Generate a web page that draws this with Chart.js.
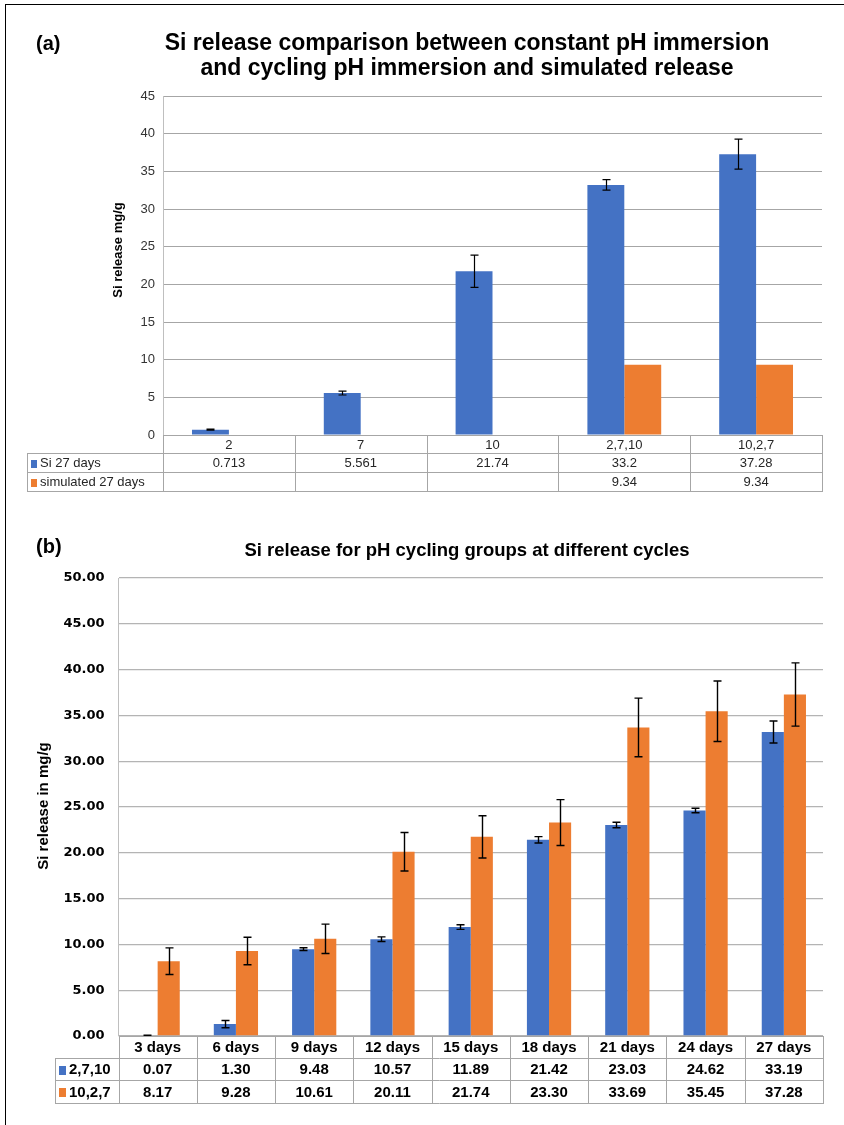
<!DOCTYPE html>
<html>
<head>
<meta charset="utf-8">
<script src="https://cdn.jsdelivr.net/npm/chart.js@4.4.1/dist/chart.umd.min.js"></script>
<style>
  html, body { margin: 0; padding: 0; background: #fff; }
  body { width: 844px; height: 1125px; position: relative; overflow: hidden; }
  #frame { position: absolute; left: 5px; top: 4px; width: 860px; height: 1140px;
           border-left: 1.5px solid #000; border-top: 1.5px solid #000; }
  canvas { position: absolute; left: 0; }
  #chartA { top: 0; }
  #chartB { top: 505px; }
</style>
</head>
<body>
<div id="frame"></div>
<canvas id="chartA" width="844" height="505"></canvas>
<canvas id="chartB" width="844" height="620"></canvas>
<script>
// ---- Panel (a): 27-day Si release, constant pH vs cycling pH vs simulated ----
const phGroups   = ['2', '7', '10', '2,7,10', '10,2,7'];
const si27       = [0.713, 5.561, 21.74, 33.2, 37.28];
const si27Err    = [0.06, 0.25, 2.15, 0.7, 2.0];
const simulated27 = [null, null, null, 9.34, 9.34];

// ---- Panel (b): cumulative Si release of the cycling groups ----
const cycleDays  = ['3 days', '6 days', '9 days', '12 days', '15 days', '18 days', '21 days', '24 days', '27 days'];
const grp2710    = [0.07, 1.30, 9.48, 10.57, 11.89, 21.42, 23.03, 24.62, 33.19];
const grp2710Err = [0.03, 0.40, 0.15, 0.25, 0.25, 0.35, 0.30, 0.25, 1.20];
const grp1027    = [8.17, 9.28, 10.61, 20.11, 21.74, 23.30, 33.69, 35.45, 37.28];
const grp1027Err = [1.45, 1.50, 1.60, 2.10, 2.30, 2.50, 3.20, 3.30, 3.45];

const BLUE = '#4472C4';
const ORANGE = '#ED7D31';
const SANS = "'Liberation Sans', Arial, sans-serif";

// error bars: dataset.errors holds the +/- half-range for every bar
const errorBars = {
  id: 'errorBars',
  afterDatasetsDraw(chart, args, opts) {
    const ctx = chart.ctx, y = chart.scales.y;
    ctx.save();
    ctx.strokeStyle = '#000';
    ctx.lineWidth = opts.width || 1.2;
    const cap = opts.cap || 4;
    chart.data.datasets.forEach((ds, di) => {
      if (!ds.errors) return;
      const meta = chart.getDatasetMeta(di);
      meta.data.forEach((bar, i) => {
        const v = ds.data[i], e = ds.errors[i];
        if (v == null || e == null) return;
        const x = Math.round(bar.x) + 0.5;
        const yt = y.getPixelForValue(v + e), yb = y.getPixelForValue(v - e);
        ctx.beginPath();
        ctx.moveTo(x, yt); ctx.lineTo(x, yb);
        ctx.moveTo(x - cap, yt); ctx.lineTo(x + cap, yt);
        ctx.moveTo(x - cap, yb); ctx.lineTo(x + cap, yb);
        ctx.stroke();
      });
    });
    ctx.restore();
  }
};

// titles, rotated value-axis title and the data table under the plot
const decorations = {
  id: 'decorations',
  afterDraw(chart, args, o) {
    const ctx = chart.ctx, area = chart.chartArea, xs = chart.scales.x;
    ctx.save();
    ctx.fillStyle = '#000';
    ctx.textBaseline = 'middle';

    // panel letter
    ctx.font = 'bold ' + o.letterSize + 'px ' + SANS;
    ctx.textAlign = 'left';
    ctx.fillText(o.letter, o.letterX, o.letterY);

    // chart title lines
    ctx.font = 'bold ' + o.titleSize + 'px ' + SANS;
    ctx.textAlign = 'center';
    o.title.forEach((line, k) => ctx.fillText(line, o.titleX, o.titleY + k * o.titleGap));

    // value axis title
    ctx.save();
    ctx.translate(o.yTitleX, o.yTitleY);
    ctx.rotate(-Math.PI / 2);
    ctx.font = 'bold ' + o.yTitleSize + 'px ' + SANS;
    ctx.fillText(o.yTitle, 0, 0);
    ctx.restore();

    // data table
    const n = chart.data.labels.length;
    const step = (area.right - area.left) / n;
    const r = o.rows;
    const L = Math.round(area.left) + 0.5, R = Math.round(area.right) + 0.5;
    const T = o.tableLeft + 0.5;
    ctx.strokeStyle = o.lineColor;
    ctx.lineWidth = 1;
    ctx.beginPath();
    ctx.moveTo(L, r[0] + 0.5); ctx.lineTo(R, r[0] + 0.5);
    for (let k = 1; k < r.length; k++) { ctx.moveTo(T, r[k] + 0.5); ctx.lineTo(R, r[k] + 0.5); }
    for (let i = 0; i <= n; i++) {
      const x = Math.round(area.left + i * step) + 0.5;
      ctx.moveTo(x, r[0]); ctx.lineTo(x, r[r.length - 1] + 1);
    }
    ctx.moveTo(T, r[1]); ctx.lineTo(T, r[r.length - 1] + 1);
    ctx.stroke();

    ctx.font = o.tableFont;
    ctx.fillStyle = o.tableColor;
    ctx.textAlign = 'center';
    chart.data.labels.forEach((lab, i) => {
      ctx.fillText(lab, xs.getPixelForValue(i), (r[0] + r[1]) / 2 + o.textShift);
    });
    chart.data.datasets.forEach((ds, di) => {
      const cy = (r[di + 1] + r[di + 2]) / 2 + o.textShift;
      ctx.fillStyle = ds.backgroundColor;
      ctx.fillRect(o.keyX, Math.round(cy - o.keyH / 2), o.keyW, o.keyH);
      ctx.fillStyle = o.tableColor;
      ctx.textAlign = 'left';
      ctx.fillText(ds.label, o.keyX + o.keyW + 3, cy);
      ctx.textAlign = 'center';
      ds.data.forEach((v, i) => {
        if (v == null) return;
        ctx.fillText(o.fmt(v), xs.getPixelForValue(i), cy);
      });
    });
    ctx.restore();
  }
};

Chart.register(errorBars, decorations);

function yAxisWidth(w) { return s => { s.width = w; }; }

// ---------- panel (a) ----------
new Chart(document.getElementById('chartA'), {
  type: 'bar',
  data: {
    labels: phGroups,
    datasets: [
      { label: 'Si 27 days', data: si27, errors: si27Err, backgroundColor: BLUE },
      { label: 'simulated 27 days', data: simulated27, backgroundColor: ORANGE }
    ]
  },
  options: {
    responsive: false,
    animation: false,
    events: [],
    categoryPercentage: 0.56,
    barPercentage: 1.0,
    layout: { padding: { left: 123, right: 22, top: 96, bottom: 70 } },
    plugins: {
      legend: { display: false },
      tooltip: { enabled: false },
      errorBars: { width: 1.2, cap: 4 },
      decorations: {
        letter: '(a)', letterSize: 20, letterX: 36, letterY: 44,
        title: ['Si release comparison between constant pH immersion',
                'and cycling pH immersion and simulated release'],
        titleSize: 23, titleX: 467, titleY: 44, titleGap: 25,
        yTitle: 'Si release mg/g', yTitleSize: 13, yTitleX: 118, yTitleY: 250,
        rows: [435, 453, 472, 491], tableLeft: 27,
        lineColor: '#a6a6a6', tableFont: '13px ' + SANS, tableColor: '#262626',
        textShift: 1, keyX: 31, keyW: 6, keyH: 8,
        fmt: v => String(v)
      }
    },
    scales: {
      x: { display: false },
      y: {
        min: 0, max: 45,
        afterFit: yAxisWidth(40),
        ticks: { stepSize: 5, font: { family: SANS, size: 13 }, color: '#333333', padding: 8 },
        grid: { color: '#a6a6a6', lineWidth: 1, drawTicks: false },
        border: { display: true, color: '#bfbfbf', width: 1 }
      }
    }
  }
});

// ---------- panel (b) ----------
new Chart(document.getElementById('chartB'), {
  type: 'bar',
  data: {
    labels: cycleDays,
    datasets: [
      { label: '2,7,10', data: grp2710, errors: grp2710Err, backgroundColor: BLUE },
      { label: '10,2,7', data: grp1027, errors: grp1027Err, backgroundColor: ORANGE }
    ]
  },
  options: {
    responsive: false,
    animation: false,
    events: [],
    categoryPercentage: 0.565,
    barPercentage: 1.0,
    layout: { padding: { left: 48.5, right: 21, top: 73, bottom: 89 } },
    plugins: {
      legend: { display: false },
      tooltip: { enabled: false },
      errorBars: { width: 1.4, cap: 4 },
      decorations: {
        letter: '(b)', letterSize: 20, letterX: 36, letterY: 42,
        title: ['Si release for pH cycling groups at different cycles'],
        titleSize: 18.5, titleX: 467, titleY: 46, titleGap: 0,
        yTitle: 'Si release in mg/g', yTitleSize: 15, yTitleX: 44, yTitleY: 301,
        rows: [531, 553, 575, 598], tableLeft: 55,
        lineColor: '#a6a6a6', tableFont: 'bold 15px ' + SANS, tableColor: '#000',
        textShift: 1, keyX: 59, keyW: 7, keyH: 9,
        fmt: v => v.toFixed(2)
      }
    },
    scales: {
      x: { display: false },
      y: {
        min: 0, max: 50,
        afterFit: yAxisWidth(70),
        ticks: {
          stepSize: 5,
          font: { family: "'DejaVu Sans', Verdana, sans-serif", size: 13, weight: 'bold' },
          color: '#000', padding: 14,
          callback: v => Number(v).toFixed(2)
        },
        grid: { color: '#b4b4b4', lineWidth: 1.3, drawTicks: false },
        border: { display: true, color: '#bfbfbf', width: 1 }
      }
    }
  }
});
</script>
</body>
</html>
